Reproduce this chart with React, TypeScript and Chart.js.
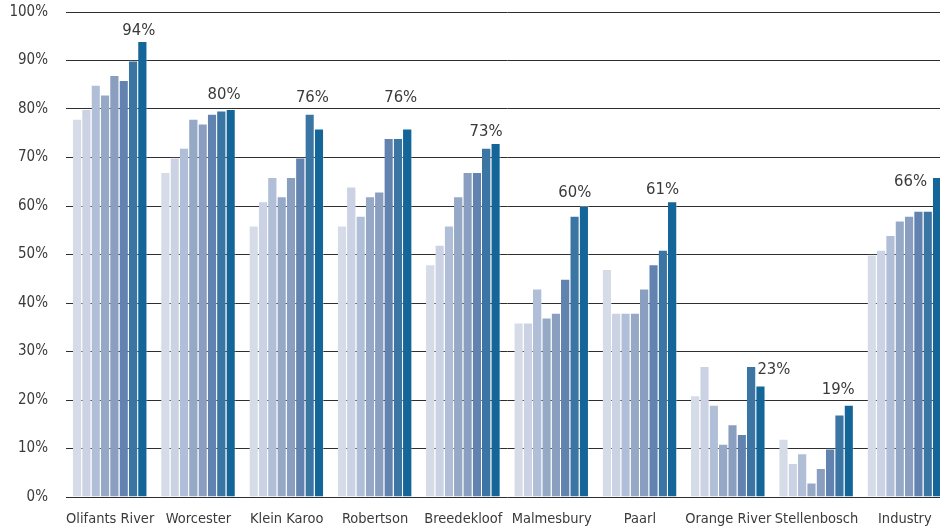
import React, { useEffect, useRef } from "react";
import { Chart, registerables } from "chart.js";

Chart.register(...registerables);

// Regions along the x axis
const regions = [
  "Olifants River",
  "Worcester",
  "Klein Karoo",
  "Robertson",
  "Breedekloof",
  "Malmesbury",
  "Paarl",
  "Orange River",
  "Stellenbosch",
  "Industry",
];

// Eight consecutive periods per region, oldest first (percent)
const period1 = [78, 67, 56, 56, 48, 36, 47, 21, 12, 50];
const period2 = [80, 70, 61, 64, 52, 36, 38, 27, 7, 51];
const period3 = [85, 72, 66, 58, 56, 43, 38, 19, 9, 54];
const period4 = [83, 78, 62, 62, 62, 37, 38, 11, 3, 57];
const period5 = [87, 77, 66, 63, 67, 38, 43, 15, 6, 58];
const period6 = [86, 79, 70, 74, 67, 45, 48, 13, 10, 59];
const period7 = [90, 79.7, 79, 74, 72, 58, 51, 27, 17, 59];
const period8 = [94, 80, 76, 76, 73, 60, 61, 23, 19, 66];

const periods = [period1, period2, period3, period4, period5, period6, period7, period8];

// Light grey-blue through to deep blue
const shades = [
  "#d5dbe7",
  "#cbd2e3",
  "#b0bfd7",
  "#95a9c6",
  "#8a9fc0",
  "#6283b0",
  "#3b75a4",
  "#146699",
];

// Y axis tick values
const yTicks = [0, 10, 20, 30, 40, 50, 60, 70, 80, 90, 100];

// Where each value label for the latest period sits relative to its bar (px)
const labelShiftX = [-4, -7, -7, -7, -10, -9.5, -10, 13, -11, -27];
const labelLift = [5.7, 10, 26.6, 26.6, 7, 8.7, 7, 11, 11, -9];

const FONT = "'DejaVu Sans Condensed', 'Liberation Sans Narrow', Arial, sans-serif";
const TEXT = "#3a3a3a";

const latestLabels = {
  id: "latestLabels",
  afterDatasetsDraw(chart: Chart) {
    const last = chart.data.datasets.length - 1;
    const meta = chart.getDatasetMeta(last);
    const ctx = chart.ctx;
    ctx.save();
    ctx.font = `16.5px ${FONT}`;
    ctx.fillStyle = TEXT;
    ctx.textAlign = "center";
    ctx.textBaseline = "alphabetic";
    meta.data.forEach((el: any, i: number) => {
      const v = chart.data.datasets[last].data[i] as number;
      ctx.fillText(`${Math.round(v)}%`, el.x + labelShiftX[i], el.y - labelLift[i]);
    });
    ctx.restore();
  },
};

export default function App() {
  const ref = useRef<HTMLCanvasElement | null>(null);

  useEffect(() => {
    if (!ref.current) return;
    const chart = new Chart(ref.current, {
      type: "bar",
      data: {
        labels: regions,
        datasets: periods.map((vals, i) => ({
          label: `Period ${i + 1}`,
          data: vals,
          backgroundColor: shades[i],
          borderColor: "rgba(255,255,255,0.35)",
          borderWidth: { top: 1, left: 0, right: 1, bottom: 0 },
          borderSkipped: "bottom",
          barPercentage: 1,
          categoryPercentage: 0.845,
        })),
      },
      options: {
        animation: false,
        responsive: true,
        maintainAspectRatio: false,
        layout: { padding: { top: 0, right: 1, left: 0, bottom: 0 } },
        plugins: {
          legend: { display: false },
          tooltip: { enabled: false },
        },
        scales: {
          x: {
            grid: { display: false },
            border: { display: false },
            ticks: {
              color: TEXT,
              font: { family: FONT, size: 14.5 },
              padding: 6,
              maxRotation: 0,
              autoSkip: false,
            },
            afterFit: (s: any) => {
              s.height = 35;
            },
          },
          y: {
            min: 0,
            max: 100,
            afterBuildTicks: (s: any) => {
              s.ticks = yTicks.map((v) => ({ value: v }));
            },
            grid: { color: "#2e2e2e", lineWidth: 1, drawTicks: false },
            border: { display: false },
            ticks: {
              color: TEXT,
              font: { family: FONT, size: 15 },
              padding: 18,
              callback: (v: any) => `${v}%`,
            },
            afterFit: (s: any) => {
              s.width = 66;
            },
          },
        },
      },
      plugins: [latestLabels],
    });
    return () => chart.destroy();
  }, []);

  return (
    <div
      style={{
        position: "fixed",
        left: 0,
        top: 0,
        width: 940,
        height: 532,
        overflow: "hidden",
        background: "#fff",
      }}
    >
      <div style={{ width: 950, height: 547, position: "relative", top: -15 }}>
        <canvas ref={ref} />
      </div>
    </div>
  );
}
